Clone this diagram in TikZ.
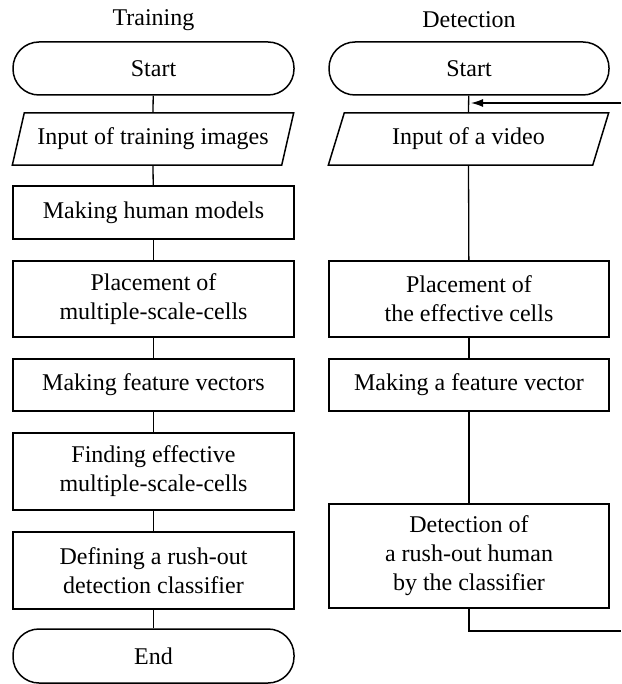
\documentclass[tikz,border=0pt]{standalone}
\usepackage{fontspec}
\setmainfont{Liberation Serif}
\usetikzlibrary{arrows.meta}
\tikzset{
  txt/.style={font=\fontsize{24}{29}\selectfont, align=center, inner sep=0pt},
  procbox/.style={txt, draw, line width=1.5pt, minimum height=#1},
  lcol/.style={minimum width=281pt},
  rcol/.style={minimum width=280pt},
  termbox/.style={txt, draw, line width=1.5pt, rounded corners=26pt, minimum height=53pt},
  iobox/.style={txt, minimum height=52pt},
  conn/.style={line width=1.3pt},
  para/.style={line width=1.5pt}
}
\begin{document}
\begin{tikzpicture}[x=1pt,y=-1pt]
\useasboundingbox (0,0) rectangle (621,684);
% titles
\node[txt] (ttrain) at (153.5,20) {Training};
\node[txt] (tdet) at (469,20) {Detection};
% left column
\node[termbox, lcol] (lstart) at (153.5,68.5) {Start};
\node[iobox, lcol] (lin) at (153,139) {Input of training images};
\draw[para] ([xshift=12pt]lin.north west) -- (lin.north east) -- ([xshift=-12pt]lin.south east) -- (lin.south west) -- cycle;
\node[procbox=53pt, lcol] (lhum) at (153.5,212.5) {Making human models};
\node[procbox=76pt, lcol] (lplace) at (153.5,299) {Placement of\\multiple-scale-cells};
\node[procbox=52pt, lcol] (lfeat) at (153.5,385) {Making feature vectors};
\node[procbox=77pt, lcol] (lfind) at (153.5,471.5) {Finding effective\\multiple-scale-cells};
\node[procbox=77pt, lcol] (ldef) at (153.5,570.5) {Defining a rush-out\\detection classifier};
\node[termbox, lcol, minimum height=54pt] (lend) at (153.5,656) {End};
\draw[conn] (lstart) -- (lin.north);
\draw[conn] (lin.south) -- (lhum);
\draw[conn] (lhum) -- (lplace);
\draw[conn] (lplace) -- (lfeat);
\draw[conn] (lfeat) -- (lfind);
\draw[conn] (lfind) -- (ldef);
\draw[conn] (ldef) -- (lend);
% right column
\node[termbox, rcol] (rstart) at (469,68.5) {Start};
\node[iobox, minimum width=280pt] (rin) at (468.5,139) {Input of a video};
\draw[para] ([xshift=16pt]rin.north west) -- (rin.north east) -- ([xshift=-16pt]rin.south east) -- (rin.south west) -- cycle;
\node[procbox=76pt, rcol] (rplace) at (469,299) {Placement of\\the effective cells};
\node[procbox=52pt, rcol] (rfeat) at (469,385) {Making a feature vector};
\node[procbox=104pt, rcol] (rdet) at (469,556) {Detection of\\a rush-out human\\by the classifier};
\coordinate (loopin) at (621,103);
\coordinate (loopout) at (621,631);
\draw[conn] (rstart) -- (rin.north);
\draw[conn] (rin.south) -- (rplace);
\draw[conn] (rplace) -- (rfeat);
\draw[conn] (rfeat) -- (rdet);
\draw[conn] (rdet.south) |- (loopout);
\draw[conn, -{Latex[length=12pt, width=8pt]}] (loopin) -- ([xshift=2pt]rstart.south |- loopin);
\end{tikzpicture}
\end{document}
